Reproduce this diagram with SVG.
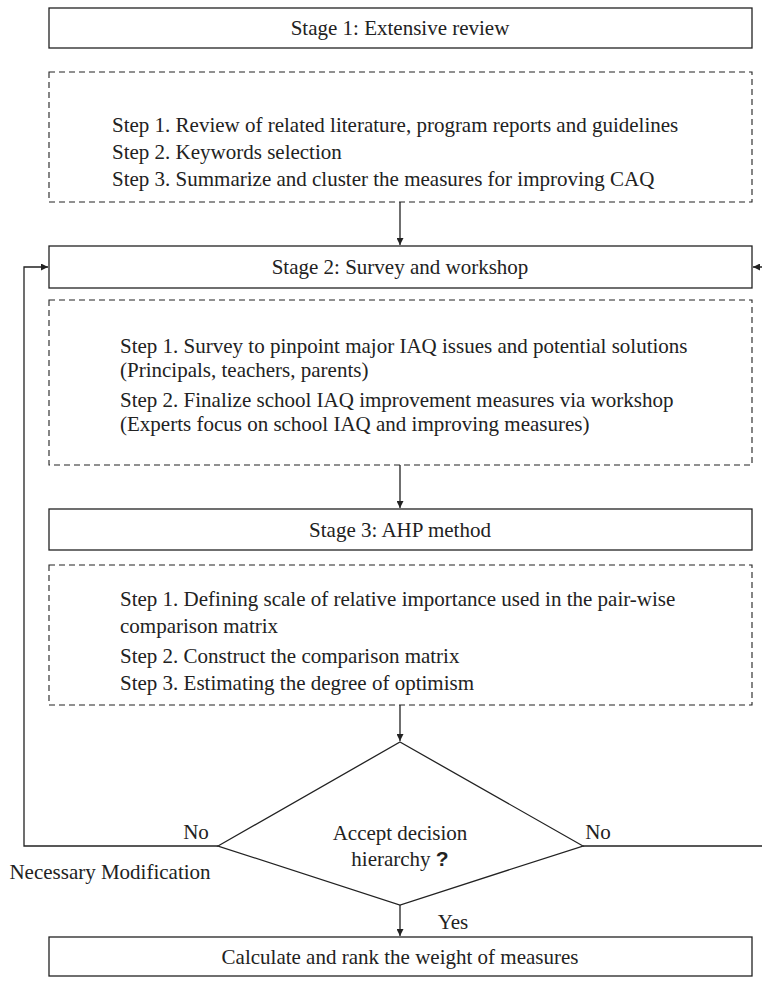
<svg xmlns="http://www.w3.org/2000/svg" width="762" height="983" viewBox="0 0 762 983">
<defs>
<marker id="ah" viewBox="0 0 10 10" refX="10" refY="5" markerWidth="7" markerHeight="7" markerUnits="userSpaceOnUse" orient="auto">
<path d="M0,0 L10,5 L0,10 z" fill="#222"/>
</marker>
<style>
.box{fill:#fff;stroke:#222;stroke-width:1.3}
.dash{fill:none;stroke:#222;stroke-width:1.1;stroke-dasharray:6,4}
.t{font-family:"Liberation Serif","Times New Roman",serif;font-size:21px;fill:#222}
.c{text-anchor:middle}
.ln{fill:none;stroke:#222;stroke-width:1.3}
</style>
</defs>
<rect width="762" height="983" fill="#fff"/>
<g id="connectors">
<line class="ln" x1="400" y1="202" x2="400" y2="245" marker-end="url(#ah)"/>
<line class="ln" x1="400" y1="465" x2="400" y2="508" marker-end="url(#ah)"/>
<line class="ln" x1="400" y1="705" x2="400" y2="741" marker-end="url(#ah)"/>
<line class="ln" x1="400" y1="905" x2="400" y2="936" marker-end="url(#ah)"/>
<polyline class="ln" points="218,846 24,846 24,267 48,267" marker-end="url(#ah)"/>
<polyline class="ln" points="583,846 775,846 775,267 753,267" marker-end="url(#ah)"/>
<text class="t" x="196" y="839" text-anchor="middle">No</text>
<text class="t" x="598" y="839" text-anchor="middle">No</text>
<text class="t" x="110" y="879" text-anchor="middle">Necessary Modification</text>
<text class="t" x="453" y="929" text-anchor="middle">Yes</text>
</g>
<g id="stage1">
<rect class="box" x="49" y="8" width="703" height="40"/>
<text class="t c" x="400" y="35">Stage 1: Extensive review</text>
</g>
<g id="steps1">
<rect class="dash" x="49" y="72" width="703" height="130"/>
<text class="t" x="112" y="132">Step 1. Review of related literature, program reports and guidelines</text>
<text class="t" x="112" y="159">Step 2. Keywords selection</text>
<text class="t" x="112" y="186">Step 3. Summarize and cluster the measures for improving CAQ</text>
</g>
<g id="stage2">
<rect class="box" x="49" y="246" width="703" height="42"/>
<text class="t c" x="400" y="274">Stage 2: Survey and workshop</text>
</g>
<g id="steps2">
<rect class="dash" x="49" y="300" width="703" height="165"/>
<text class="t" x="120" y="353">Step 1. Survey to pinpoint major IAQ issues and potential solutions</text>
<text class="t" x="120" y="377">(Principals, teachers, parents)</text>
<text class="t" x="120" y="407">Step 2. Finalize school IAQ improvement measures via workshop</text>
<text class="t" x="120" y="431">(Experts focus on school IAQ and improving measures)</text>
</g>
<g id="stage3">
<rect class="box" x="49" y="509" width="703" height="41"/>
<text class="t c" x="400" y="537">Stage 3: AHP method</text>
</g>
<g id="steps3">
<rect class="dash" x="49" y="565" width="703" height="140"/>
<text class="t" x="120" y="606">Step 1. Defining scale of relative importance used in the pair-wise</text>
<text class="t" x="120" y="633">comparison matrix</text>
<text class="t" x="120" y="663">Step 2. Construct the comparison matrix</text>
<text class="t" x="120" y="690">Step 3. Estimating the degree of optimism</text>
</g>
<g id="decision">
<polygon class="box" points="400,742 583,846 400,905 218,846"/>
<text class="t c" x="400" y="840">Accept decision</text>
<text class="t c" x="400" y="866">hierarchy <tspan font-family="Liberation Sans, Arial, sans-serif" font-weight="bold">?</tspan></text>
</g>
<g id="result">
<rect class="box" x="49" y="937" width="703" height="39"/>
<text class="t c" x="400" y="964">Calculate and rank the weight of measures</text>
</g>
</svg>
